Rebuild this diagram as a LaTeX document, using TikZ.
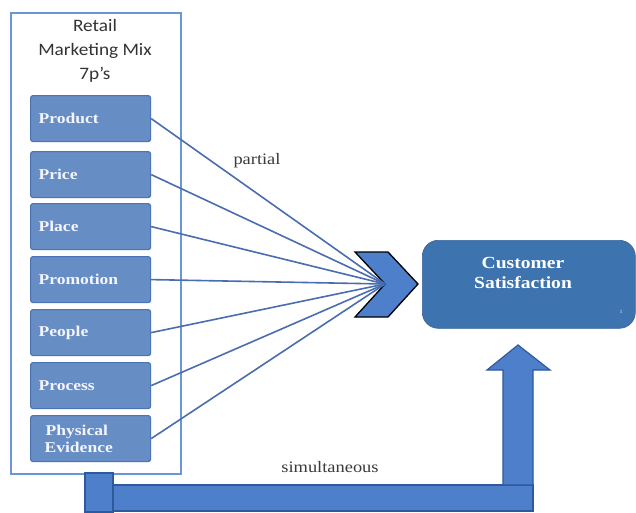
\documentclass[tikz,border=0pt]{standalone}
\usepackage{fontspec}
\setmainfont{Liberation Serif}
\newfontfamily\titlefont[FakeStretch=1.1]{Carlito}
\newfontfamily\boxfont[FakeStretch=1.17]{Liberation Serif}
\newfontfamily\csfont[FakeStretch=1.15]{Liberation Serif}
\newfontfamily\labfont[FakeStretch=1.15]{Liberation Serif}
\definecolor{pfill}{HTML}{668DC4}
\definecolor{pdraw}{HTML}{4A74B4}
\definecolor{outerb}{HTML}{6A96D6}
\definecolor{linec}{HTML}{4A6DB0}
\definecolor{csfill}{HTML}{3D74B0}
\definecolor{arrfill}{HTML}{4D7FCB}
\definecolor{arrdraw}{HTML}{2E5A9C}
\definecolor{lbl}{HTML}{3A3A3A}
\begin{document}
\begin{tikzpicture}[x=1pt,y=-1pt,
  pbox/.style={draw=pdraw,line width=1.2pt,fill=pfill,rounded corners=2.5pt,
    minimum width=120pt,minimum height=46pt,anchor=north west,
    text width=104pt,align=left,inner xsep=8pt,text=white!96!blue,
    font=\boxfont\fontsize{15}{16}\selectfont\bfseries},
  conn/.style={draw=linec,line width=1.6pt},
  lab/.style={text=lbl,font=\labfont\fontsize{16}{18}\selectfont}]
\useasboundingbox (0,0) rectangle (636,512);
\fill[white] (0,0) rectangle (636,512);
% outer frame
\node[draw=outerb,line width=1.5pt,minimum width=170pt,minimum height=461pt,anchor=north west,inner sep=0pt] (frame) at (10,12) {};
\node[align=center,font=\titlefont\fontsize{17.5}{24}\selectfont,text=black!80] (title) at (95,51) {Retail\\Marketing Mix\\7p’s};
% P boxes
\node[pbox] (p1) at (30,95)  {Product\\[-4pt]};
\node[pbox] (p2) at (30,151) {Price\\[-2pt]};
\node[pbox] (p3) at (30,203) {Place};
\node[pbox] (p4) at (30,256) {Promotion};
\node[pbox] (p5) at (30,309) {People};
\node[pbox] (p6) at (30,362) {Process\\[-5pt]};
\node[pbox,font=\boxfont\fontsize{15}{17}\selectfont\bfseries] (p7) at (30,415) {\hspace*{7pt}Physical\\\hspace*{6pt}Evidence};
% bent arrow
\filldraw[fill=arrfill,draw=arrdraw,line width=1.2pt] (85,473) rectangle (113,512);
\filldraw[fill=arrfill,draw=arrdraw,line width=1.2pt] (113,485) rectangle (533,511);
\filldraw[fill=arrfill,draw=arrdraw,line width=1.2pt,line join=miter]
  (503,485) -- (503,370) -- (487,370) -- (518,345) -- (550,370) -- (533,370) -- (533,485) -- cycle;
% chevron
\filldraw[fill=arrfill,draw=black,line width=1.3pt,line join=miter]
  (355,252) -- (388,252) -- (418,284) -- (388,317) -- (355,317) -- (385,284) -- cycle;
\coordinate (conv) at (385,284);
% connectors
\foreach \i in {1,...,7} { \draw[conn] (p\i.east) -- (conv); }
% customer satisfaction
\node[fill=csfill,draw=csfill!85!black,line width=0.6pt,rounded corners=16pt,minimum width=213pt,minimum height=88pt,anchor=north west,inner sep=0pt] (cs) at (422,240) {};
\node[text=white,align=center,font=\csfont\fontsize{17}{20}\selectfont\bfseries] (cstext) at (523,273) {Customer\\Satisfaction};
\node[text=white,font=\fontsize{5}{6}\selectfont,inner sep=0pt] (csmark) at (621,312) {1};
% labels
\node[lab] (partial) at (257,161) {partial};
\node[lab] (simul) at (330,467) {simultaneous};
\end{tikzpicture}
\end{document}
